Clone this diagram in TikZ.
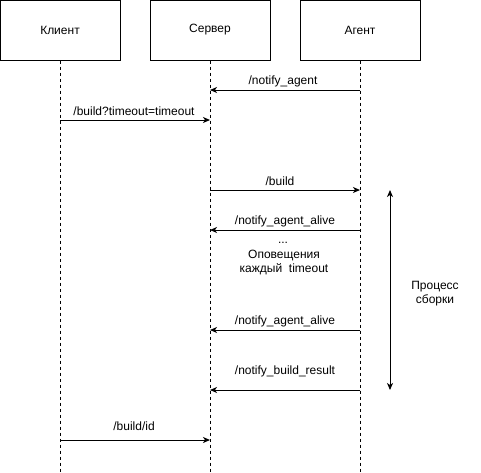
\documentclass[tikz,border=0pt]{standalone}
\usepackage{fontspec}
\setmainfont{Liberation Sans}
\usetikzlibrary{arrows.meta}
\begin{document}
\begin{tikzpicture}[x=1pt,y=-1pt,
  actor/.style={draw,line width=1pt,minimum width=120pt,minimum height=60pt,inner sep=0pt,font=\fontsize{12}{14}\selectfont},
  life/.style={line width=0.8pt,dash pattern=on 3pt off 3pt},
  msg/.style={line width=1pt,-{Stealth[length=7pt,width=6pt,inset=2pt]}},
  lbl/.style={font=\fontsize{12}{14}\selectfont,inner sep=0pt,align=center}]
\useasboundingbox (0,0) rectangle (481,472);
\node[actor] (cl) at (60,30) {Клиент};
\node[actor] (sv) at (210,30) {Сервер};
\node[actor] (ag) at (360,30) {Агент};
\coordinate (clb) at (60,472);
\coordinate (svb) at (210,472);
\coordinate (agb) at (360,472);
\draw[life] (cl.south) -- (clb);
\draw[life] (sv.south) -- (svb);
\draw[life] (ag.south) -- (agb);
% messages
\coordinate (a1) at (360,90); \coordinate (b1) at (210,90);
\draw[msg] (a1) -- (b1);
\node[lbl] (l1) at (283,81) {/notify\_agent};
\coordinate (a2) at (60,120); \coordinate (b2) at (210,120);
\draw[msg] (a2) -- (b2);
\node[lbl] (l2) at (134,111) {/build?timeout=timeout};
\coordinate (a3) at (210,190); \coordinate (b3) at (360,190);
\draw[msg] (a3) -- (b3);
\node[lbl] (l3) at (280,181) {/build};
\coordinate (a4) at (360,230); \coordinate (b4) at (210,230);
\draw[msg] (a4) -- (b4);
\node[lbl] (l4) at (285,221) {/notify\_agent\_alive};
\node[lbl] (n1) at (283,243) {...};
\node[lbl] (n2) at (284,255) {Оповещения};
\node[lbl] (n3) at (284,269) {каждый\ \ timeout};
\coordinate (a5) at (360,330); \coordinate (b5) at (210,330);
\draw[msg] (a5) -- (b5);
\node[lbl] (l5) at (285,321) {/notify\_agent\_alive};
\coordinate (a6) at (360,390); \coordinate (b6) at (210,390);
\draw[msg] (a6) -- (b6);
\node[lbl] (l6) at (285,371) {/notify\_build\_result};
\coordinate (a7) at (60,440); \coordinate (b7) at (210,440);
\draw[msg] (a7) -- (b7);
\node[lbl] (l7) at (134,426) {/build/id};
% process
\coordinate (p1) at (390,190); \coordinate (p2) at (390,390);
\draw[line width=1pt,{Stealth[length=7pt,width=6pt,inset=2pt]}-{Stealth[length=7pt,width=6pt,inset=2pt]}] (p1) -- (p2);
\node[lbl] (pr) at (435,294) {Процесс\\сборки};
\end{tikzpicture}
\end{document}
